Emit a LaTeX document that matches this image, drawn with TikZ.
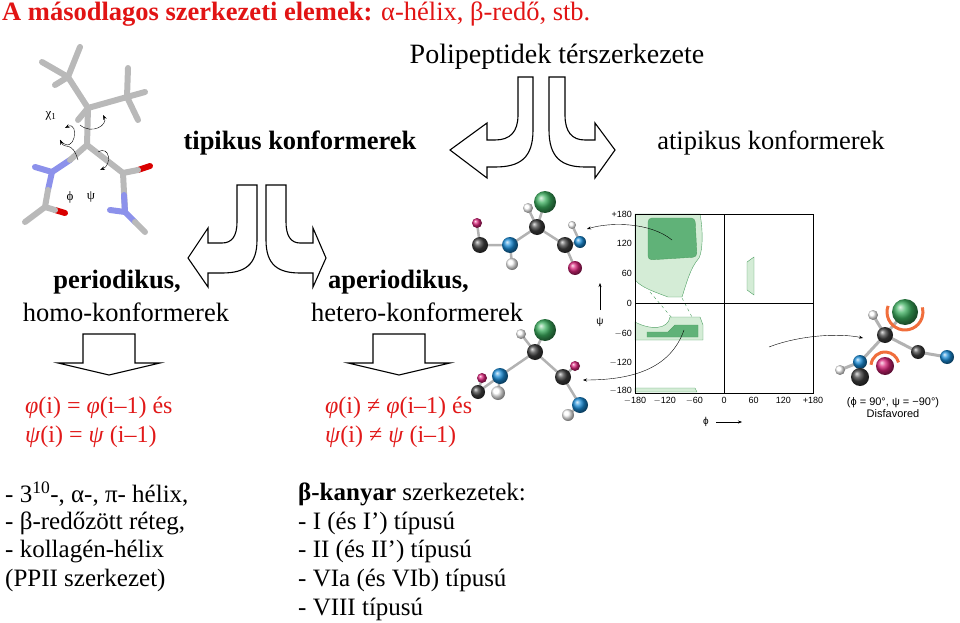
\documentclass[tikz,border=0pt]{standalone}
\usepackage{fontspec}
\setmainfont{Liberation Serif}
\setsansfont{Liberation Sans}
\usetikzlibrary{arrows.meta}
\definecolor{titred}{RGB}{225,20,20}
\definecolor{formred}{RGB}{225,25,25}
\definecolor{lightgr}{RGB}{212,236,214}
\definecolor{darkgr}{RGB}{96,178,120}
\definecolor{edgegr}{RGB}{80,160,100}
\definecolor{nblue}{RGB}{25,140,215}
\definecolor{omag}{RGB}{215,35,120}
\definecolor{sgreen}{RGB}{60,175,95}
\definecolor{stickN}{RGB}{140,145,235}
\definecolor{orangearc}{RGB}{240,110,60}
\tikzset{
	bigtxt/.style={font=\fontsize{26.5}{30}\selectfont, inner sep=0pt},
	redtxt/.style={font=\fontsize{24}{27}\selectfont, inner sep=0pt, text=formred, anchor=west},
	listtxt/.style={font=\fontsize{25}{28}\selectfont, inner sep=0pt, anchor=west},
	hollow/.style={draw=black, line width=1.1pt, fill=white, line join=miter},
	stick/.style={line width=6pt, line cap=round, gray!55},
	ticklbl/.style={font=\sffamily\fontsize{9}{10}\selectfont, inner sep=1pt}
}
\begin{document}
\begin{tikzpicture}[x=1pt,y=-1pt]
	\useasboundingbox (0,0) rectangle (960,623);
	
	% title and headings
	\node[anchor=west, inner sep=0pt, text=titred, font=\fontsize{26.5}{28}\selectfont] (title) at (2,14) {\textbf{A másodlagos szerkezeti elemek:} α-hélix, β-redő, stb.};
	\node[bigtxt, font=\fontsize{28}{30}\selectfont] (poli) at (557,57) {Polipeptidek térszerkezete};
	\node[bigtxt, font=\bfseries\fontsize{26.5}{30}\selectfont] (tip) at (300,143) {tipikus konformerek};
	\node[bigtxt] (atip) at (771,143) {atipikus konformerek};
	\node[bigtxt, font=\bfseries\fontsize{26.5}{30}\selectfont] (per) at (117,282) {periodikus,};
	\node[bigtxt] (homo) at (126,312) {homo-konformerek};
	\node[bigtxt, font=\bfseries\fontsize{26.5}{30}\selectfont, anchor=west] (aper) at (328,282) {aperiodikus,};
	\node[bigtxt, anchor=west] (hetero) at (311,312) {hetero-konformerek};
	
	% hollow bent arrows
	\draw[hollow] (518,77) -- (533,77) -- (533,130) .. controls (533,158) and (520,167) .. (495,167) -- (487,167) -- (487,178) -- (450,150) -- (487,123) -- (487,140) -- (495,140) .. controls (510,140) and (518,132) .. (518,115) -- cycle;
	\draw[hollow] (565,77) -- (549,77) -- (549,130) .. controls (549,158) and (562,167) .. (585,167) -- (595,167) -- (595,178) -- (615,150) -- (595,123) -- (595,140) -- (585,140) .. controls (572,140) and (565,132) .. (565,115) -- cycle;
	\draw[hollow] (237,185) -- (257,185) -- (257,240) .. controls (257,265) and (245,273) .. (222,273) -- (208,273) -- (208,287) -- (188,258) -- (208,228) -- (208,243) -- (222,243) .. controls (232,243) and (237,236) .. (237,222) -- cycle;
	\draw[hollow] (286,185) -- (266,185) -- (266,240) .. controls (266,265) and (278,273) .. (300,273) -- (313,273) -- (313,287) -- (326,258) -- (313,228) -- (313,243) -- (300,243) .. controls (291,243) and (286,236) .. (286,222) -- cycle;
	
	% down arrows
	\foreach \cx in {109,399}{
		\draw[hollow] (\cx-26,334) -- (\cx+26,334) -- (\cx+26,363) -- (\cx+51,363) -- (\cx,375) -- (\cx-51,363) -- (\cx-26,363) -- cycle;
	}
	
	% formulas
	\node[redtxt] (f1) at (25,408) {\textit{φ}(i) = \textit{φ}(i–1) és};
	\node[redtxt] (f2) at (25,437) {\textit{ψ}(i) = \textit{ψ} (i–1)};
	\node[redtxt] (f3) at (325,408) {\textit{φ}(i) ≠ \textit{φ}(i–1) és};
	\node[redtxt] (f4) at (325,437) {\textit{ψ}(i) ≠ \textit{ψ} (i–1)};
	
	% lists
	\node[listtxt] (l1) at (5,494) {- 3\textsuperscript{10}-, α-, π- hélix,};
	\node[listtxt] (l2) at (5,523) {- β-redőzött réteg,};
	\node[listtxt] (l3) at (5,551) {- kollagén-hélix};
	\node[listtxt] (l4) at (5,580) {(PPII szerkezet)};
	\node[listtxt] (r1) at (298,494) {\textbf{β-kanyar} szerkezetek:};
	\node[listtxt] (r2) at (298,523) {- I (és I’) típusú};
	\node[listtxt] (r3) at (298,551) {- II (és II’) típusú};
	\node[listtxt] (r4) at (298,580) {- VIa (és VIb) típusú};
	\node[listtxt] (r5) at (298,609) {- VIII típusú};
	
	% stick model
	\draw[stick] (87,145) -- (88,108) -- (68,77) -- (42,62);
	\draw[stick] (68,77) -- (80,47); \draw[stick] (68,77) -- (55,85);
	\draw[stick] (88,108) -- (127,97) -- (128,68); \draw[stick] (127,97) -- (145,92); \draw[stick] (127,97) -- (138,120);
	\draw[stick] (88,108) -- (78,120);
	\draw[stick] (87,145) -- (123,173) -- (125,212);
	\draw[stick, stickN] (70,160) -- (52,172) -- (48,190);
	\draw[stick] (87,145) -- (70,160); \draw[stick] (48,190) -- (45,207) -- (25,222);
	\draw[stick, stickN] (52,172) -- (35,167);
	\draw[stick, red!85!black] (55,210) -- (65,213); \draw[stick] (45,207) -- (55,210);
	\draw[stick, red!85!black] (138,170) -- (150,166); \draw[stick] (123,173) -- (138,170);
	\draw[stick, stickN] (124,195) -- (125,212) -- (110,210); \draw[stick, stickN] (125,212) -- (135,222);
	\draw[stick] (135,222) -- (145,232);
	\draw[->, >=Stealth, thin] (60,140) .. controls (75,158) and (80,120) .. (65,128);
	\draw[->, >=Stealth, thin] (78,160) .. controls (72,140) and (65,150) .. (60,140);
	\draw[->, >=Stealth, thin] (98,152) .. controls (110,145) and (112,165) .. (100,170);
	\draw[->, >=Stealth, thin] (80,125) .. controls (92,135) and (108,125) .. (103,115);
	\node[inner sep=0pt, font=\fontsize{13}{14}\selectfont] (chi) at (51,116) {χ\textsubscript{1}};
	\node[inner sep=0pt, font=\fontsize{13}{14}\selectfont] (phil) at (70,197) {ϕ};
	\node[inner sep=0pt, font=\fontsize{13}{14}\selectfont] (psil) at (91,197) {ψ};
	
	% ball and stick molecules
	\draw[line width=2.5pt, gray!60] (477,223) -- (480,245) -- (510,245) -- (512,264) (510,245) -- (537,227) -- (545,202) (537,227) -- (528,208) (537,227) -- (565,245) -- (575,268) (565,245) -- (580,242) -- (572,225);
	\draw[line width=2.5pt, gray!60] (482,378) -- (478,392) -- (500,376) -- (498,393) (500,376) -- (535,352) -- (545,330) (535,352) -- (521,334) (535,352) -- (563,377) -- (575,366) (563,377) -- (580,405) -- (568,415);
	\draw[line width=3pt, gray!60] (885,335) -- (905,312) (885,335) -- (873,315) (885,335) -- (860,362) -- (840,370) (860,362) -- (860,377) (885,335) -- (918,352) -- (947,357);
	\foreach \x/\y/\r/\c in {477/223/5/omag, 480/245/8/darkgray, 510/245/8/nblue, 512/264/6/white, 545/202/11/sgreen, 537/227/8/darkgray, 528/208/5/white, 565/245/8/darkgray, 575/268/7/omag, 572/225/4/white, 580/242/6/nblue,
		545/330/11/sgreen, 521/334/5/white, 535/352/8/darkgray, 482/378/5/omag, 478/392/7/darkgray, 500/376/8/nblue, 498/393/7/white, 575/366/5/omag, 563/377/8/darkgray, 580/405/8/nblue, 568/415/6/white,
		873/315/5/white, 905/312/13/sgreen, 885/335/8/darkgray, 840/370/5/white, 860/362/7/nblue, 860/377/9/darkgray, 885/366/9/omag, 918/352/7/darkgray, 947/357/7/nblue}{
		\shade[ball color=\c] (\x,\y) circle (\r pt);
	}
	\draw[orangearc, line width=3pt] (905,312) ++(200:18) arc (200:-15:18);
	\draw[orangearc, line width=3pt] (885,366) ++(185:14) arc (185:345:14);
	\node[ticklbl, font=\sffamily\fontsize{11}{12}\selectfont] (dis1) at (893,403) {(ϕ = 90°, ψ = −90°)};
	\node[ticklbl, font=\sffamily\fontsize{11}{12}\selectfont] (dis2) at (893,414) {Disfavored};
	
	% Ramachandran plot
	\fill[lightgr, draw=edgegr, thin] (635,214) -- (700,214) .. controls (703,230) and (703,250) .. (699,258) .. controls (690,268) and (686,285) .. (682,297) -- (668,297) .. controls (655,292) and (642,288) .. (635,280) -- cycle;
	\fill[darkgr, draw=edgegr, thin, rounded corners=4pt] (648,218) -- (695,218) -- (697,257) -- (648,260) -- cycle;
	\fill[lightgr, draw=edgegr, thin] (635,322) .. controls (650,330) and (668,330) .. (670,317) -- (700,317) -- (703,325) -- (703,340) -- (635,340) -- cycle;
	\fill[darkgr, draw=edgegr, thin] (647,332) -- (668,332) -- (675,325) -- (698,325) -- (698,337) -- (647,337) -- cycle;
	\fill[lightgr, draw=edgegr, thin] (747,262) -- (754,257) -- (754,295) -- (747,290) -- cycle;
	\fill[lightgr, draw=edgegr, thin] (635,388) -- (695,388) -- (697,392) -- (635,392) -- cycle;
	\draw[edgegr, dashed, thin] (650,292) -- (672,318) (682,298) -- (692,317);
	\draw[thin] (635,214) rectangle (813,393);
	\draw[thin] (724,214) -- (724,393) (635,303.5) -- (813,303.5);
	\foreach \v/\t in {-180/$-$180, -120/$-$120, -60/$-$60, 0/0, 60/60, 120/120, 180/+180}{
		\node[ticklbl, anchor=north] at ({724+\v*0.494},396) {\t};
	}
	\foreach \v/\t in {-120/$-$120, -60/$-$60, 0/0, 60/60, 120/120, 180/+180}{
		\node[ticklbl, anchor=east] at (633,{303.5-\v*0.497}) {\t};
	}
	\node[ticklbl, anchor=east] (ylow) at (633,391) {$-$180};
	\node[ticklbl, font=\sffamily\fontsize{10}{11}\selectfont] (psiax) at (600,322) {ψ};
	\node[ticklbl, font=\sffamily\fontsize{10}{11}\selectfont] (phiax) at (706,422) {ϕ};
	\draw[-{Stealth[length=4pt]}, thin] (600,310) -- (600,283);
	\draw[-{Stealth[length=4pt]}, thin] (716,422) -- (742,422);
	\draw[-{Stealth[length=4pt]}, thin] (672,240) .. controls (650,222) and (610,222) .. (587,229);
	\draw[-{Stealth[length=4pt]}, thin] (684,330) .. controls (670,370) and (630,380) .. (583,380);
	\draw[-{Stealth[length=4pt]}, thin] (769,347) .. controls (800,335) and (840,333) .. (863,338);
\end{tikzpicture}
\end{document}
